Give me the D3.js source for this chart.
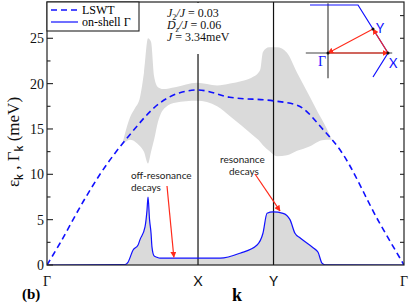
<!DOCTYPE html>
<html>
<head>
<meta charset="utf-8">
<script src="https://cdn.jsdelivr.net/npm/d3@7"></script>
<style>
  body { margin: 0; background: #fff; }
  svg { display: block; }
</style>
</head>
<body>
<script>
// path positions along Γ-X-Y-Γ
const kPos = [0, 1, 1.5, 2.364];
const kLabels = ["Γ", "X", "Y", "Γ"];
const yMajor = [0, 5, 10, 15, 20, 25];

// LSWT dispersion (meV)
const epsK = [0, 0.086, 0.24, 0.351, 0.55, 0.75, 0.88, 1.0, 1.21, 1.5, 1.66, 1.83, 1.94, 2.2, 2.364];
const epsV = [0, 2.4, 7.0, 10.0, 14.4, 17.9, 19.0, 19.3, 18.5, 18.1, 17.6, 14.9, 12.7, 4.7, 0];

// on-shell decay rate (meV)
const gamK = [0, 0.517, 0.536, 0.570, 0.603, 0.616, 0.649, 0.662, 0.669, 0.679, 0.689, 0.695, 0.709, 0.728,
              0.748, 1.146, 1.278, 1.391, 1.430, 1.457, 1.497, 1.563, 1.609, 1.642, 1.675, 1.762, 1.795,
              1.821, 1.841, 2.364];
const gamV = [0, 0.05, 0.3, 1.65, 2.2, 2.8, 4.2, 6.0, 7.5, 5.0, 3.5, 2.0, 1.0, 0.85,
              0.75, 0.75, 1.3, 2.2, 3.5, 5.7, 5.85, 5.7, 5.0, 3.5, 3.0, 1.9, 1.4,
              0.2, 0.02, 0];

// shaded spectral band (upper / lower edge, meV)
const bandK  = [0.497, 0.550, 0.583, 0.616, 0.642, 0.669, 0.689, 0.709, 0.735, 0.768, 0.848, 0.993,
                1.126, 1.212, 1.371, 1.411, 1.430, 1.470, 1.523, 1.589, 1.656, 1.742, 1.795, 1.848, 1.887];
const bandHi = [13.2, 16.3, 17.3, 18.5, 21.2, 25.0, 24.6, 20.8, 19.6, 19.4, 19.6, 20.1,
                19.8, 20.0, 20.8, 21.5, 23.5, 24.0, 24.0, 23.4, 21.2, 18.5, 16.8, 15.2, 13.8];
const bandLo = [13.2, 13.8, 13.6, 13.1, 12.5, 11.2, 12.5, 13.8, 15.8, 17.1, 17.9, 18.1,
                17.5, 16.4, 14.2, 13.6, 13.2, 12.6, 12.0, 12.1, 12.6, 13.1, 13.6, 13.8, 13.8];

const W = 411, H = 305;
const m = { left: 47, right: 404, top: 2, bottom: 265 };
const SERIF = '"Liberation Serif"', SANS = 'Lato';

const svg = d3.select("body").append("svg")
    .attr("width", W)
    .attr("height", H);

const x = d3.scaleLinear().domain([0, 2.364]).range([m.left, m.right]);
const y = d3.scaleLinear().domain([0, 29]).range([m.bottom, m.top]);

const blue = "#1010ff", red = "#ff2a1a", gray = "#dadada";

const defs = svg.append("defs");
defs.append("clipPath").attr("id", "plot")
  .append("rect").attr("x", m.left).attr("y", m.top)
  .attr("width", m.right - m.left).attr("height", m.bottom - m.top);
defs.append("marker").attr("id", "arr")
    .attr("viewBox", "0 0 10 10").attr("refX", 9).attr("refY", 5)
    .attr("markerWidth", 6).attr("markerHeight", 6)
    .attr("markerUnits", "userSpaceOnUse")
    .attr("orient", "auto")
  .append("path").attr("d", "M0,0L10,5L0,10z").attr("fill", red);

const plot = svg.append("g").attr("clip-path", "url(#plot)");

const band = bandK.map((k, i) => ({ k, hi: bandHi[i], lo: bandLo[i] }));
const eps = epsK.map((k, i) => ({ k, v: epsV[i] }));
const gam = gamK.map((k, i) => ({ k, v: gamV[i] }));

plot.append("path").datum(band)
    .attr("fill", gray)
    .attr("d", d3.area().curve(d3.curveMonotoneX)
        .x(d => x(d.k)).y0(d => y(d.lo)).y1(d => y(d.hi)));

plot.append("path").datum(gam)
    .attr("fill", gray)
    .attr("d", d3.area().curve(d3.curveMonotoneX)
        .x(d => x(d.k)).y0(y(0)).y1(d => y(d.v)));

// X and Y reference lines
plot.selectAll("line.kline").data(kPos.slice(1, 3)).enter().append("line")
    .attr("x1", d => x(d)).attr("x2", d => x(d))
    .attr("y1", m.top).attr("y2", m.bottom)
    .attr("stroke", "#111").attr("stroke-width", 1.2);

plot.append("path").datum(eps)
    .attr("fill", "none").attr("stroke", blue)
    .attr("stroke-width", 1.6).attr("stroke-dasharray", "6,4")
    .attr("d", d3.line().curve(d3.curveMonotoneX).x(d => x(d.k)).y(d => y(d.v)));

plot.append("path").datum(gam)
    .attr("fill", "none").attr("stroke", blue).attr("stroke-width", 1.2)
    .attr("d", d3.line().curve(d3.curveMonotoneX).x(d => x(d.k)).y(d => y(d.v)));

// parameter block with white background
svg.append("rect").attr("x", 160).attr("y", m.top + 1).attr("width", 80).attr("height", 51).attr("fill", "#fff");
const par = svg.append("text").style("font-family", SERIF).attr("font-size", 12).attr("fill", "#111");
const l1 = par.append("tspan").attr("x", 167).attr("y", 17);
l1.append("tspan").attr("font-style", "italic").text("J");
l1.append("tspan").attr("font-size", 8).attr("dy", 3).text("2");
l1.append("tspan").attr("dy", -3).attr("font-style", "italic").text("/J");
l1.append("tspan").text(" = 0.03");
const l2 = par.append("tspan").attr("x", 167).attr("y", 29);
l2.append("tspan").attr("font-style", "italic").text("D");
l2.append("tspan").attr("font-size", 8).attr("dy", 3).attr("font-style", "italic").text("z");
l2.append("tspan").attr("dy", -3).attr("font-style", "italic").text("/J");
l2.append("tspan").text(" = 0.06");
const l3 = par.append("tspan").attr("x", 167).attr("y", 41);
l3.append("tspan").attr("font-style", "italic").text("J");
l3.append("tspan").text(" = 3.34meV");

// frame
svg.append("rect").attr("x", m.left).attr("y", m.top)
    .attr("width", m.right - m.left).attr("height", m.bottom - m.top)
    .attr("fill", "none").attr("stroke", "#222").attr("stroke-width", 1.2);

// left ticks (major + minor), right ticks
const minor = d3.range(0, 29, 2.5);
svg.selectAll("line.lt").data(minor).enter().append("line")
    .attr("x1", m.left).attr("x2", d => m.left + (d % 5 === 0 ? 6 : 3.5))
    .attr("y1", d => y(d)).attr("y2", d => y(d))
    .attr("stroke", "#222").attr("stroke-width", 1.1);
svg.selectAll("line.rt").data(minor.filter(d => d > 0)).enter().append("line")
    .attr("x1", m.right).attr("x2", m.right - 4)
    .attr("y1", d => y(d)).attr("y2", d => y(d))
    .attr("stroke", "#222").attr("stroke-width", 1.1);

svg.selectAll("text.yt").data(yMajor).enter().append("text")
    .style("font-family", SERIF)
    .attr("x", m.left - 3).attr("y", d => y(d) + 5)
    .attr("text-anchor", "end").attr("font-size", 14)
    .attr("fill", "#111").text(d => d);

svg.selectAll("text.xt").data(kPos).enter().append("text")
    .style("font-family", (d, i) => kLabels[i] === "Γ" ? SERIF : SANS)
    .attr("x", d => x(d)).attr("y", 286)
    .attr("text-anchor", "middle")
    .attr("font-size", 14).attr("fill", "#111")
    .text((d, i) => kLabels[i]);

svg.append("text").style("font-family", SERIF).attr("x", 237).attr("y", 301).attr("text-anchor", "middle")
    .attr("font-weight", "bold").attr("font-size", 18).text("k");
svg.append("text").style("font-family", SERIF).attr("x", 22).attr("y", 299)
    .attr("font-weight", "bold").attr("font-size", 15).text("(b)");

// y label
const yl = svg.append("text").style("font-family", SERIF).attr("transform", "translate(19,142) rotate(-90)")
    .attr("text-anchor", "middle").attr("font-size", 17).attr("fill", "#111");
yl.append("tspan").text("ε");
yl.append("tspan").style("font-family", SANS).attr("font-size", 11).attr("font-weight", "bold").attr("dy", 4).text("k");
yl.append("tspan").attr("dy", -4).text(" , Γ");
yl.append("tspan").style("font-family", SANS).attr("font-size", 11).attr("font-weight", "bold").attr("dy", 4).text("k");
yl.append("tspan").attr("dy", -4).text("  (meV)");

// legend
const lg = svg.append("g");
lg.append("rect").attr("x", m.left).attr("y", m.top).attr("width", 92).attr("height", 29)
    .attr("fill", "#fff").attr("stroke", "#222").attr("stroke-width", 1.1);
lg.append("line").attr("x1", 51).attr("x2", 78).attr("y1", 10).attr("y2", 10)
    .attr("stroke", blue).attr("stroke-width", 1.5).attr("stroke-dasharray", "6,4");
lg.append("line").attr("x1", 51).attr("x2", 78).attr("y1", 22).attr("y2", 22)
    .attr("stroke", blue).attr("stroke-width", 1.2);
lg.append("text").style("font-family", SERIF).attr("x", 82).attr("y", 14).attr("font-size", 12).text("LSWT");
lg.append("text").style("font-family", SERIF).attr("x", 82).attr("y", 26).attr("font-size", 12).text("on-shell Γ");

// annotations
const ann = svg.append("g").style("font-family", SANS).attr("font-size", 10).attr("fill", "#222");
ann.append("text").attr("x", 131).attr("y", 179).text("off-resonance");
ann.append("text").attr("x", 131).attr("y", 191).text("decays");
ann.append("text").attr("x", 220).attr("y", 163).text("resonance");
ann.append("text").attr("x", 229).attr("y", 175).text("decays");
svg.append("line").attr("x1", 167).attr("y1", 186).attr("x2", x(0.84)).attr("y2", y(0.75) - 1)
    .attr("stroke", red).attr("stroke-width", 1.2).attr("marker-end", "url(#arr)");
svg.append("line").attr("x1", 255).attr("y1", 174).attr("x2", x(1.543)).attr("y2", y(5.85) - 1)
    .attr("stroke", red).attr("stroke-width", 1.2).attr("marker-end", "url(#arr)");

// Brillouin zone inset
const ix = d3.scaleLinear().domain([0, 1]).range([328, 388]);
const iy = d3.scaleLinear().domain([0, 1]).range([53, -7]);
const bz = [[-0.3, 0.8], [0.5, 0.8], [1, 0], [0.75, -0.4]];
const ptG = [0, 0], ptX = [1, 0], ptY = [0.75, 0.4];
const ins = svg.append("g");
ins.append("line").attr("x1", ix(0)).attr("x2", ix(0)).attr("y1", iy(0.83)).attr("y2", iy(-0.42))
    .attr("stroke", "#444").attr("stroke-width", 1.2);
ins.append("line").attr("x1", ix(-0.37)).attr("x2", ix(1.07)).attr("y1", iy(0)).attr("y2", iy(0))
    .attr("stroke", "#444").attr("stroke-width", 1.2);
ins.append("path").attr("d", d3.line().x(d => ix(d[0])).y(d => iy(d[1]))(bz))
    .attr("fill", "none").attr("stroke", blue).attr("stroke-width", 1.2);
[[ptG, ptX], [ptX, ptY], [ptY, ptG]].forEach(([a, b]) => {
  ins.append("line").attr("x1", ix(a[0])).attr("y1", iy(a[1])).attr("x2", ix(b[0])).attr("y2", iy(b[1]))
      .attr("stroke", red).attr("stroke-width", 1.1).attr("marker-end", "url(#arr)");
});
ins.selectAll("circle").data([ptG, ptX, ptY]).enter().append("circle")
    .attr("cx", d => ix(d[0])).attr("cy", d => iy(d[1])).attr("r", 1.5).attr("fill", "#111");
ins.append("text").style("font-family", SERIF).attr("x", 322).attr("y", 66).attr("text-anchor", "middle")
    .attr("font-size", 14).attr("fill", blue).text("Γ");
ins.append("text").style("font-family", SANS).attr("x", 376).attr("y", 33).attr("font-size", 13).attr("fill", blue).text("Y");
ins.append("text").style("font-family", SANS).attr("x", 389).attr("y", 68).attr("font-size", 13).attr("fill", blue).text("X");
</script>
</body>
</html>
